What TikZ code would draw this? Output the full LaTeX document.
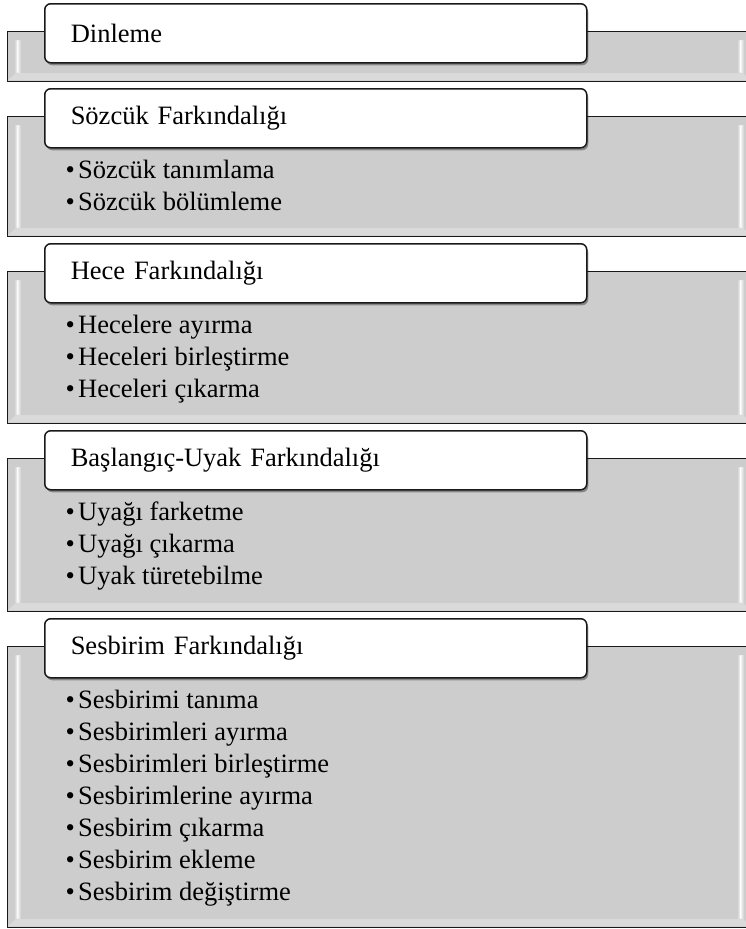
\documentclass[tikz,border=0pt]{standalone}
\usepackage{fontspec}
\setmainfont{Liberation Serif}
\usetikzlibrary{shadows}
\definecolor{boxgray}{HTML}{CDCDCD}
\begin{document}
\begin{tikzpicture}[x=1pt,y=-1pt,
  graybox/.style={draw=black!90, line width=1.3pt, fill=boxgray, minimum width=745pt, inner sep=0pt},
  hdr/.style={draw=black!90, line width=1.5pt, fill=white, rounded corners=6pt,
    minimum width=525pt, minimum height=59pt, text width=490pt, inner xsep=26pt, inner ysep=0pt,
    align=left, font=\fontsize{26.5}{32}\selectfont,
    drop shadow={shadow xshift=1.5pt, shadow yshift=-2.5pt, opacity=0.35, fill=black}},
  itemtext/.style={inner sep=0pt, anchor=base west, font=\fontsize{26.5}{32}\selectfont}
]
\useasboundingbox (0,0) rectangle (745,929);
\fill[white] (0,0) rectangle (745,929);
\newcommand\bl{\makebox[12.5pt][l]{•}}
% gray boxes with bevel
\foreach \i/\t/\b in {1/31/81, 2/116/236, 3/271/423, 4/458/611, 5/646/927} {
  \pgfmathsetmacro\hh{\b-\t}
  \node[graybox, minimum height=\hh pt, anchor=north west] (g\i) at (7,\t) {};
  \fill[boxgray!75!white] (7.7,\b-0.7) -- (16,\b-8) -- (743,\b-8) -- (751,\b-0.7) -- cycle;
  \shade[left color=boxgray, right color=white!80!boxgray] (14,\t+9) rectangle (17.5,\b-9);
  \shade[left color=white!80!boxgray, right color=boxgray] (17.5,\t+9) rectangle (21,\b-9);
  \shade[left color=boxgray, right color=white!85!boxgray] (737,\t+9) rectangle (740.5,\b-9);
  \shade[left color=white!85!boxgray, right color=boxgray] (740.5,\t+9) rectangle (744,\b-9);
}
% headers
\node[hdr, anchor=north west] (h1) at (44,3) {Dinleme};
\node[hdr, anchor=north west] (h2) at (44,88) {Sözcük Farkındalığı};
\node[hdr, anchor=north west] (h3) at (44,243) {Hece Farkındalığı};
\node[hdr, anchor=north west] (h4) at (44,430) {Başlangıç-Uyak Farkındalığı};
\node[hdr, anchor=north west] (h5) at (44,618) {Sesbirim Farkındalığı};
% items
\foreach \j/\y/\s in {a/178/Sözcük tanımlama, b/210/Sözcük bölümleme}
  \node[itemtext] (i2\j) at (65.5,\y) {\bl \s};
\foreach \j/\y/\s in {a/333/Hecelere ayırma, b/365/Heceleri birleştirme, c/397/Heceleri çıkarma}
  \node[itemtext] (i3\j) at (65.5,\y) {\bl \s};
\foreach \j/\y/\s in {a/520/Uyağı farketme, b/552/Uyağı çıkarma, c/584/Uyak türetebilme}
  \node[itemtext] (i4\j) at (65.5,\y) {\bl \s};
\foreach \j/\y/\s in {a/708/Sesbirimi tanıma, b/740/Sesbirimleri ayırma, c/772/Sesbirimleri birleştirme, d/804/Sesbirimlerine ayırma, e/836/Sesbirim çıkarma, f/868/Sesbirim ekleme, g/900/Sesbirim değiştirme}
  \node[itemtext] (i5\j) at (65.5,\y) {\bl \s};
\end{tikzpicture}
\end{document}
